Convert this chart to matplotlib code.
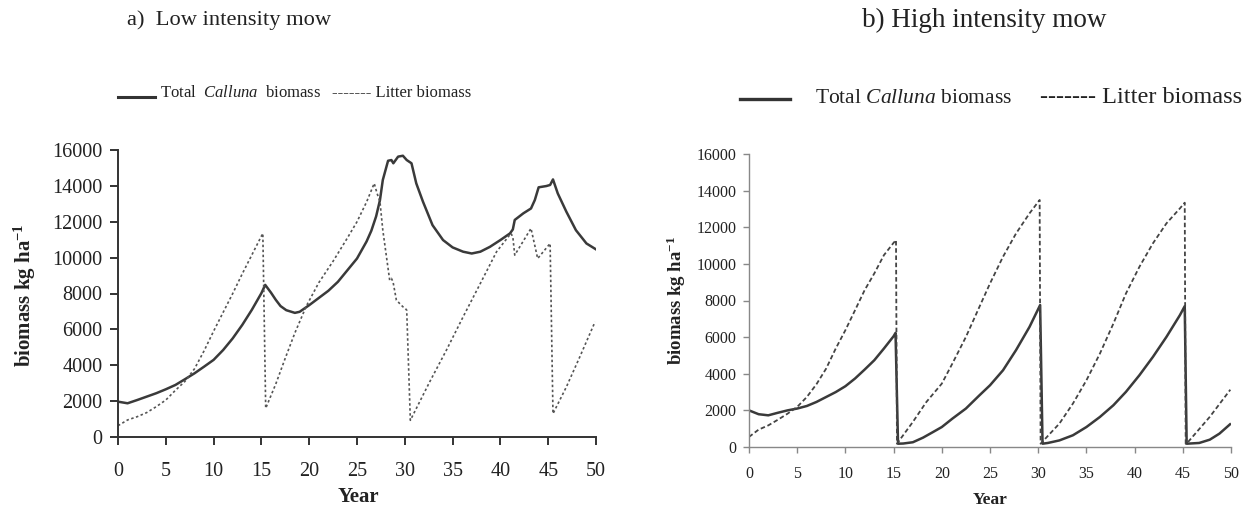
import matplotlib
matplotlib.use("Agg")
import matplotlib.pyplot as plt
from matplotlib.lines import Line2D

# ---- dati (anni, kg/ha) ----
# a) Low intensity mow
anni_low_calluna = [0, 1, 2, 3, 4, 5, 6, 7, 8, 9, 10, 11, 12, 13, 14, 15, 15.4, 16, 16.5, 17, 17.6,
                    18.5, 19, 20, 21, 22, 23, 24, 25, 26, 26.5, 27, 27.4, 27.7, 28.25, 28.6, 28.8,
                    29.3, 29.8, 30.2, 30.7, 31.2, 31.9, 32.9, 34, 35, 36.1, 37, 37.9, 38.9, 40, 41,
                    41.3, 41.5, 42.4, 43.2, 43.6, 44, 44.8, 45.2, 45.5, 46, 46.9, 47.9, 49, 50]
calluna_low = [1970, 1880, 2060, 2250, 2440, 2660, 2900, 3220, 3550, 3920, 4300, 4850, 5500, 6250,
               7090, 8020, 8480, 8050, 7650, 7300, 7070, 6920, 6980, 7350, 7750, 8150, 8650, 9300,
               9950, 10900, 11500, 12300, 13200, 14330, 15400, 15440, 15260, 15630, 15680, 15440,
               15260, 14140, 13120, 11810, 10980, 10570, 10330, 10230, 10330, 10600, 10980, 11350,
               11570, 12100, 12470, 12740, 13210, 13920, 13990, 14050, 14360, 13580, 12560, 11530,
               10790, 10460]

anni_low_litter = [0, 1, 2, 3, 4, 5, 6, 7, 8, 9, 10, 11, 12, 13, 14, 15, 15.15, 15.45, 16.5, 17.5,
                   18.5, 19.7, 21, 22.5, 24, 25, 26, 26.8, 27.1, 27.4, 27.7, 28.42, 28.6, 28.77,
                   29.12, 29.3, 29.8, 30.0, 30.2, 30.58, 32.6, 34.35, 36.1, 37.9, 39.6, 41.1, 41.3,
                   41.5, 43.2, 43.9, 45.2, 45.5, 46.9, 48.3, 49.9]
litter_low = [630, 950, 1130, 1360, 1690, 2060, 2600, 3100, 3800, 4800, 5900, 6950, 8000, 9100,
              10150, 11200, 11350, 1600, 2950, 4400, 5800, 7300, 8600, 9800, 11100, 12000, 13100,
              14140, 13580, 13120, 11530, 8740, 8840, 8650, 7630, 7530, 7260, 7200, 7070, 930,
              3070, 4840, 6700, 8560, 10330, 11350, 11160, 10140, 11630, 9950, 10790, 1300, 2790,
              4460, 6420]

# b) High intensity mow
anni_high_calluna = [0, 1, 2, 3, 4, 5, 6, 7, 8, 9, 10, 11, 12, 13, 14, 15, 15.2, 15.46, 16, 17,
                     18.05, 19.1, 20, 21.1, 22.5, 23.9, 25, 26.35, 27.7, 29.1, 30.2, 30.45, 31,
                     32.2, 33.6, 35, 36.4, 37.8, 39.1, 40.5, 41.9, 43.3, 44.7, 45.2, 45.4, 46.7,
                     47.8, 48.8, 49.9]
calluna_high = [2000, 1790, 1730, 1870, 2000, 2100, 2240, 2460, 2730, 3000, 3320, 3740, 4230, 4740,
                5380, 6050, 6230, 180, 190, 260, 510, 820, 1090, 1550, 2100, 2820, 3370, 4190, 5290,
                6560, 7750, 180, 220, 360, 640, 1090, 1640, 2280, 3010, 3920, 4920, 6010, 7200,
                7690, 180, 220, 400, 730, 1240]

anni_high_litter = [0, 1, 2, 3, 4, 5, 6, 7, 8, 9, 10, 11, 12, 13, 14, 15, 15.25, 15.35, 17.0, 18.4,
                    20, 21.1, 22.5, 23.9, 25, 26.35, 27.7, 29.1, 30.15, 30.25, 32.2, 33.6, 35, 36.4,
                    37.8, 39.1, 40.5, 41.9, 43.3, 44.7, 45.2, 45.3, 45.54, 47.79, 49.93]
litter_high = [550, 950, 1180, 1490, 1820, 2190, 2730, 3430, 4280, 5380, 6380, 7470, 8570, 9480,
               10480, 11150, 11300, 180, 1370, 2460, 3460, 4560, 6010, 7650, 8930, 10390, 11660,
               12760, 13490, 180, 1280, 2370, 3640, 5100, 6740, 8380, 9840, 11120, 12210, 13030,
               13340, 180, 270, 1640, 3130]

x_ticks = [0, 5, 10, 15, 20, 25, 30, 35, 40, 45, 50]
y_ticks = [0, 2000, 4000, 6000, 8000, 10000, 12000, 14000, 16000]

plt.rcParams['font.family'] = ['Liberation Serif', 'DejaVu Serif']
plt.rcParams['mathtext.fontset'] = 'custom'
plt.rcParams['mathtext.rm'] = 'Liberation Serif'
plt.rcParams['mathtext.it'] = 'Liberation Serif:italic'
plt.rcParams['mathtext.bf'] = 'Liberation Serif:bold'

fig = plt.figure(figsize=(12.45, 5.14), dpi=100)
W, H = 1245.0, 514.0


def setup_axes(ax, col, lw, size, ticklen, xpad):
    # solo assi sinistro e inferiore, come nel grafico originale
    for s in ['top', 'right']:
        ax.spines[s].set_visible(False)
    for s in ['left', 'bottom']:
        ax.spines[s].set_color(col)
        ax.spines[s].set_linewidth(lw)
    ax.set_xlim(0, 50)
    ax.set_ylim(0, 16000)
    ax.set_xticks(x_ticks)
    ax.set_yticks(y_ticks)
    ax.tick_params(axis='both', colors=col, labelcolor='#222222', labelsize=size,
                   length=ticklen, width=lw, direction='out')
    ax.tick_params(axis='x', pad=xpad)
    ax.tick_params(axis='y', pad=5)


# ---- pannello a ----
ax1 = fig.add_axes([118 / W, 1 - 437 / H, 478 / W, 287 / H])
ax1.plot(anni_low_calluna, calluna_low, color='#3a3a3a', lw=1.8, solid_joinstyle='round')
ax1.plot(anni_low_litter, litter_low, color='#555555', lw=1.2, linestyle=(0, (1.5, 1.5)))
setup_axes(ax1, '#333333', 1.4, 14.5, 6, 12)

# ---- pannello b ----
ax2 = fig.add_axes([749 / W, 1 - 447 / H, 482 / W, 293 / H])
ax2.plot(anni_high_calluna, calluna_high, color='#3a3a3a', lw=1.8, solid_joinstyle='round')
ax2.plot(anni_high_litter, litter_high, color='#444444', lw=1.3, linestyle=(0, (2.5, 1.5)))
setup_axes(ax2, '#888888', 1.0, 11.5, 4, 10)

# titoli
fig.text(229 / W, 1 - 20 / H, 'a)  Low intensity mow', ha='center', va='center', fontsize=16.2, color='#222222')
fig.text(984 / W, 1 - 20 / H, 'b) High intensity mow', ha='center', va='center', fontsize=19.5, color='#222222')

# legende disegnate a mano
fig.add_artist(Line2D([118 / W, 155 / W], [1 - 97 / H, 1 - 97 / H], color='#333333', lw=2.2))
fig.text(160 / W, 1 - 97 / H, r'Total  $\mathit{Calluna}$  biomass', ha='left', va='baseline', fontsize=12, color='#222222')
fig.text(332 / W, 1 - 97 / H, '------- Litter biomass', ha='left', va='baseline', fontsize=12, color='#222222')

fig.add_artist(Line2D([740 / W, 790 / W], [1 - 99 / H, 1 - 99 / H], color='#333333', lw=2.4))
fig.text(815 / W, 1 - 103 / H, r'Total $\mathit{Calluna}$ biomass', ha='left', va='baseline', fontsize=15.5, color='#222222')
fig.text(1040 / W, 1 - 103 / H, '------- Litter biomass', ha='left', va='baseline', fontsize=17.5, color='#222222')

# etichette degli assi
fig.text(25 / W, 1 - 295 / H, r'biomass kg ha$^{\mathbf{-1}}$', rotation=90, ha='center', va='center',
         fontsize=15, fontweight='bold', color='#222222')
fig.text(676 / W, 1 - 300 / H, r'biomass kg ha$^{\mathbf{-1}}$', rotation=90, ha='center', va='center',
         fontsize=13.5, fontweight='bold', color='#222222')
fig.text(358 / W, 1 - 497 / H, 'Year', ha='center', va='center', fontsize=15, fontweight='bold', color='#222222')
fig.text(990 / W, 1 - 500 / H, 'Year', ha='center', va='center', fontsize=12.5, fontweight='bold', color='#222222')

plt.savefig('out.png', dpi=100)
